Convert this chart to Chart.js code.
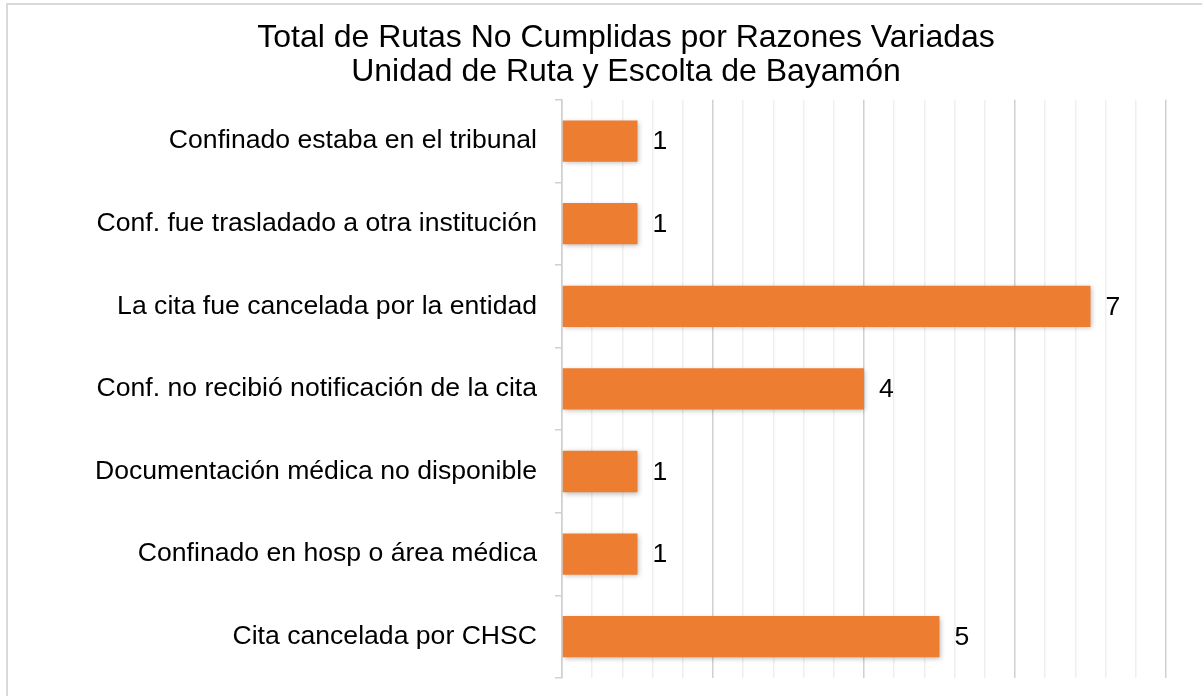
<!DOCTYPE html>
<html>
<head>
<meta charset="utf-8">
<script src="https://cdn.jsdelivr.net/npm/chart.js@4"></script>
<style>
  html, body { margin: 0; padding: 0; background: #fff; }
  #wrap { position: relative; width: 1202px; height: 696px; overflow: hidden; }
  #frame { position: absolute; left: 6px; top: 3px; width: 1300px; height: 800px;
           border-left: 2px solid #d9d9d9; border-top: 2px solid #d9d9d9; pointer-events: none; }
  canvas { position: absolute; left: 0; top: 0; }
</style>
</head>
<body>
<div id="wrap">
  <canvas id="c" width="1202" height="696"></canvas>
  <div id="frame"></div>
</div>
<script>
const titleLines = ["Total de Rutas No Cumplidas por Razones Variadas", "Unidad de Ruta y Escolta de Bayamón"];
const categories = [
  "Confinado estaba en el tribunal",
  "Conf. fue trasladado a otra institución",
  "La cita fue cancelada por la entidad",
  "Conf. no recibió notificación de la cita",
  "Documentación médica no disponible",
  "Confinado en hosp o área médica",
  "Cita cancelada por CHSC"
];
const values = [1, 1, 7, 4, 1, 1, 5];
const axisMin = 0;
const axisMax = 8;
const minorStep = 0.4;

const FONT = "'Liberation Sans', Arial, sans-serif";

const barShadow = {
  id: 'barShadow',
  beforeDatasetDraw(chart) {
    const ctx = chart.ctx;
    ctx.save();
    ctx.shadowColor = 'rgba(0,0,0,0.28)';
    ctx.shadowBlur = 5;
    ctx.shadowOffsetX = 1;
    ctx.shadowOffsetY = 1.5;
  },
  afterDatasetDraw(chart) {
    chart.ctx.restore();
  }
};

const valueLabels = {
  id: 'valueLabels',
  afterDatasetsDraw(chart) {
    const ctx = chart.ctx;
    const meta = chart.getDatasetMeta(0);
    ctx.save();
    ctx.font = "26.6px " + FONT;
    ctx.fillStyle = '#000';
    ctx.textAlign = 'left';
    ctx.textBaseline = 'middle';
    meta.data.forEach((bar, i) => {
      ctx.fillText(String(values[i]), bar.x + 15, bar.y + 1);
    });
    ctx.restore();
  }
};

new Chart(document.getElementById('c'), {
  type: 'bar',
  data: {
    labels: categories,
    datasets: [{
      data: values,
      backgroundColor: '#ED7D31',
      borderWidth: 0,
      barPercentage: 0.5,
      categoryPercentage: 1.0
    }]
  },
  options: {
    indexAxis: 'y',
    responsive: false,
    animation: false,
    devicePixelRatio: 1,
    layout: { padding: { left: 86, right: 36, top: 0, bottom: 18 } },
    plugins: {
      legend: { display: false },
      tooltip: { enabled: false },
      title: {
        display: true,
        text: titleLines,
        color: '#000',
        font: { family: FONT, size: 32, weight: 'normal', lineHeight: 1.075 },
        padding: { top: 21, bottom: 10 }
      }
    },
    scales: {
      x: {
        min: axisMin,
        max: axisMax,
        ticks: { display: false, stepSize: minorStep, autoSkip: false },
        grid: {
          drawTicks: false,
          lineWidth: 1.5,
          color: (c) => (c.index % 5 === 0 ? '#d0d0d0' : '#efefef')
        },
        border: { display: false }
      },
      y: {
        afterFit(scale) {
          scale.width = 476;
          scale.paddingTop = 0;
          scale.paddingBottom = 0;
        },
        ticks: {
          color: '#000',
          padding: 18,
          font: { family: FONT, size: 26.6 }
        },
        grid: {
          offset: true,
          drawOnChartArea: false,
          drawTicks: true,
          tickLength: 7,
          color: '#d0d0d0',
          lineWidth: 1.5
        },
        border: { display: true, color: '#d0d0d0', width: 1.5 }
      }
    }
  },
  plugins: [barShadow, valueLabels]
});
</script>
</body>
</html>
